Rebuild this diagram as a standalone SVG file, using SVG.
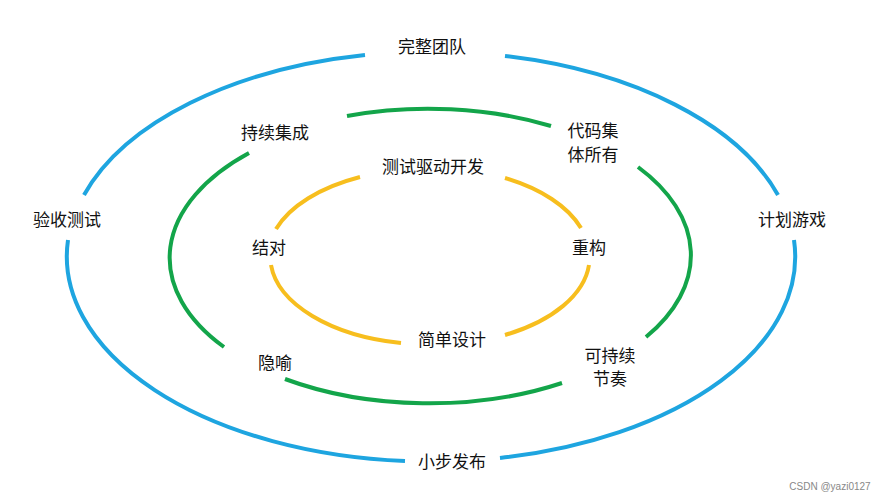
<svg xmlns="http://www.w3.org/2000/svg" width="896" height="500" viewBox="0 0 896 500">
<style>
.b{fill:none;stroke:#1ea5e0;stroke-width:4}
.g{fill:none;stroke:#13a54a;stroke-width:4}
.y{fill:none;stroke:#f7be1e;stroke-width:4}
text{font-family:"Noto Sans CJK SC","Liberation Sans",sans-serif;font-size:17px;fill:#111;text-anchor:middle}
.w{font-family:"Liberation Sans",sans-serif;font-size:10px;fill:#888}
</style>
<rect width="896" height="500" fill="#fff"/>
<g id="connectors">
<path class="b" d="M365 55 A364 205 0 0 0 84 195"/>
<path class="b" d="M68 240 A364 205 0 0 0 405 461"/>
<path class="b" d="M500 458 A364 205 0 0 0 794 240"/>
<path class="b" d="M778 195 A364 205 0 0 0 505 56"/>
<path class="g" d="M551 126 A261 146 0 0 0 347 116"/>
<path class="g" d="M249 153 A261 146 0 0 0 224 347"/>
<path class="g" d="M285 379 A261 146 0 0 0 562 383"/>
<path class="g" d="M646 337 A261 146 0 0 0 638 167"/>
<path class="y" d="M360 177 A160 88 0 0 0 276 229"/>
<path class="y" d="M271 265 A160 88 0 0 0 401 343"/>
<path class="y" d="M505 335 A160 88 0 0 0 589 265"/>
<path class="y" d="M581 228 A160 88 0 0 0 505 178"/>
</g>
<g id="n1"><text x="432" y="53">完整团队</text></g>
<g id="n2"><text x="275" y="139">持续集成</text></g>
<g id="n3"><text x="593" y="137">代码集</text><text x="593" y="161">体所有</text></g>
<g id="n4"><text x="433" y="173">测试驱动开发</text></g>
<g id="n5"><text x="67" y="226">验收测试</text></g>
<g id="n6"><text x="792" y="226">计划游戏</text></g>
<g id="n7"><text x="269" y="254">结对</text></g>
<g id="n8"><text x="589" y="254">重构</text></g>
<g id="n9"><text x="452" y="346">简单设计</text></g>
<g id="n10"><text x="275" y="369">隐喻</text></g>
<g id="n11"><text x="610" y="362">可持续</text><text x="610" y="385">节奏</text></g>
<g id="n12"><text x="452" y="468">小步发布</text></g>
<text class="w" x="830" y="490">CSDN @yazi0127</text>
</svg>
